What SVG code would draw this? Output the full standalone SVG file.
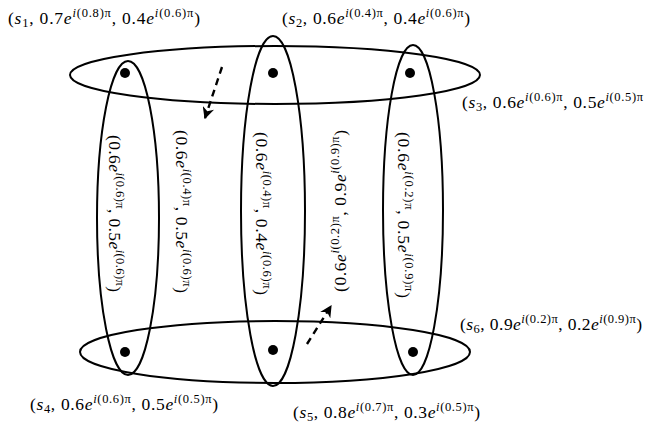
<svg xmlns="http://www.w3.org/2000/svg" width="646" height="423" viewBox="0 0 646 423">
<style>
.bg{fill:#fff}
.ell{fill:none;stroke:#000;stroke-width:2}
.dot{fill:#000}
.lbl{font-family:"Liberation Serif","DejaVu Serif",serif;font-size:17.5px;fill:#000}
.it{font-style:italic}
.sup{font-size:12.5px}
.sub{font-size:12.5px}
.dash{fill:none;stroke:#000;stroke-width:2.4;stroke-dasharray:7,5}
</style>
<defs>
<marker id="ah" viewBox="0 0 10 10" refX="9" refY="5" markerWidth="5" markerHeight="5" orient="auto" markerUnits="strokeWidth">
<path d="M0,0 L10,5 L0,10 L3,5 Z" fill="#000"/>
</marker>
</defs>
<rect class="bg" x="0" y="0" width="646" height="423"/>
<g id="hyperedges">
<ellipse id="e-top" class="ell" cx="275" cy="75" rx="205" ry="29"/>
<ellipse id="e-bottom" class="ell" cx="275" cy="352" rx="195" ry="31"/>
<ellipse id="e-left" class="ell" cx="128" cy="218" rx="31" ry="157"/>
<ellipse id="e-mid" class="ell" cx="273" cy="211" rx="32" ry="175"/>
<ellipse id="e-right" class="ell" cx="413" cy="210" rx="30" ry="165"/>
</g>
<g id="connectors">
<line class="dash" x1="222" y1="67" x2="205" y2="118" marker-end="url(#ah)"/>
<line class="dash" x1="307" y1="344" x2="331" y2="306" marker-end="url(#ah)"/>
</g>
<g id="s1"><circle class="dot" cx="125" cy="73" r="5"/>
<text class="lbl" x="8" y="24" textLength="192" lengthAdjust="spacing">(<tspan class="it">s</tspan><tspan class="sub" dy="3">1</tspan><tspan dy="-3">, 0.7</tspan><tspan class="it">e</tspan><tspan class="sup" dy="-7"><tspan class="it">i</tspan>(0.8)π</tspan><tspan dy="7">, 0.4</tspan><tspan class="it">e</tspan><tspan class="sup" dy="-7"><tspan class="it">i</tspan>(0.6)π</tspan><tspan dy="7">)</tspan></text></g>
<g id="s2"><circle class="dot" cx="273" cy="73" r="5"/>
<text class="lbl" x="282" y="24" textLength="188" lengthAdjust="spacing">(<tspan class="it">s</tspan><tspan class="sub" dy="3">2</tspan><tspan dy="-3">, 0.6</tspan><tspan class="it">e</tspan><tspan class="sup" dy="-7"><tspan class="it">i</tspan>(0.4)π</tspan><tspan dy="7">, 0.4</tspan><tspan class="it">e</tspan><tspan class="sup" dy="-7"><tspan class="it">i</tspan>(0.6)π</tspan><tspan dy="7">)</tspan></text></g>
<g id="s3"><circle class="dot" cx="410" cy="73" r="5"/>
<text class="lbl" x="462" y="108" textLength="181" lengthAdjust="spacing">(<tspan class="it">s</tspan><tspan class="sub" dy="3">3</tspan><tspan dy="-3">, 0.6</tspan><tspan class="it">e</tspan><tspan class="sup" dy="-7"><tspan class="it">i</tspan>(0.6)π</tspan><tspan dy="7">, 0.5</tspan><tspan class="it">e</tspan><tspan class="sup" dy="-7"><tspan class="it">i</tspan>(0.5)π</tspan></text></g>
<g id="s4"><circle class="dot" cx="125" cy="352" r="5"/>
<text class="lbl" x="30" y="410" textLength="188" lengthAdjust="spacing">(<tspan class="it">s</tspan><tspan class="sub" dy="3">4</tspan><tspan dy="-3">, 0.6</tspan><tspan class="it">e</tspan><tspan class="sup" dy="-7"><tspan class="it">i</tspan>(0.6)π</tspan><tspan dy="7">, 0.5</tspan><tspan class="it">e</tspan><tspan class="sup" dy="-7"><tspan class="it">i</tspan>(0.5)π</tspan><tspan dy="7">)</tspan></text></g>
<g id="s5"><circle class="dot" cx="273" cy="350" r="5"/>
<text class="lbl" x="293" y="418" textLength="187" lengthAdjust="spacing">(<tspan class="it">s</tspan><tspan class="sub" dy="3">5</tspan><tspan dy="-3">, 0.8</tspan><tspan class="it">e</tspan><tspan class="sup" dy="-7"><tspan class="it">i</tspan>(0.7)π</tspan><tspan dy="7">, 0.3</tspan><tspan class="it">e</tspan><tspan class="sup" dy="-7"><tspan class="it">i</tspan>(0.5)π</tspan><tspan dy="7">)</tspan></text></g>
<g id="s6"><circle class="dot" cx="413" cy="352" r="5"/>
<text class="lbl" x="460" y="330" textLength="182" lengthAdjust="spacing">(<tspan class="it">s</tspan><tspan class="sub" dy="3">6</tspan><tspan dy="-3">, 0.9</tspan><tspan class="it">e</tspan><tspan class="sup" dy="-7"><tspan class="it">i</tspan>(0.2)π</tspan><tspan dy="7">, 0.2</tspan><tspan class="it">e</tspan><tspan class="sup" dy="-7"><tspan class="it">i</tspan>(0.9)π</tspan><tspan dy="7">)</tspan></text></g>
<g id="edge-labels">
<text class="lbl" transform="translate(109,135) rotate(90)" textLength="157" lengthAdjust="spacing">(0.6<tspan class="it">e</tspan><tspan class="sup" dy="-7"><tspan class="it">i</tspan>(0.6)π</tspan><tspan dy="7">, 0.5</tspan><tspan class="it">e</tspan><tspan class="sup" dy="-7"><tspan class="it">i</tspan>(0.6)π</tspan><tspan dy="7">)</tspan></text>
<text class="lbl" transform="translate(176,130) rotate(90)" textLength="163" lengthAdjust="spacing">(0.6<tspan class="it">e</tspan><tspan class="sup" dy="-7"><tspan class="it">i</tspan>(0.4)π</tspan><tspan dy="7">, 0.5</tspan><tspan class="it">e</tspan><tspan class="sup" dy="-7"><tspan class="it">i</tspan>(0.6)π</tspan><tspan dy="7">)</tspan></text>
<text class="lbl" transform="translate(256,132) rotate(90)" textLength="163" lengthAdjust="spacing">(0.6<tspan class="it">e</tspan><tspan class="sup" dy="-7"><tspan class="it">i</tspan>(0.4)π</tspan><tspan dy="7">, 0.4</tspan><tspan class="it">e</tspan><tspan class="sup" dy="-7"><tspan class="it">i</tspan>(0.6)π</tspan><tspan dy="7">)</tspan></text>
<text class="lbl" transform="translate(346,292) rotate(-90)" textLength="162" lengthAdjust="spacing">(0.6<tspan class="it">e</tspan><tspan class="sup" dy="-7"><tspan class="it">i</tspan>(0.2)π</tspan><tspan dy="7">, 0.9</tspan><tspan class="it">e</tspan><tspan class="sup" dy="-7"><tspan class="it">i</tspan>(0.9)π</tspan><tspan dy="7">)</tspan></text>
<text class="lbl" transform="translate(398,132) rotate(90)" textLength="166" lengthAdjust="spacing">(0.6<tspan class="it">e</tspan><tspan class="sup" dy="-7"><tspan class="it">i</tspan>(0.2)π</tspan><tspan dy="7">, 0.5</tspan><tspan class="it">e</tspan><tspan class="sup" dy="-7"><tspan class="it">i</tspan>(0.9)π</tspan><tspan dy="7">)</tspan></text>
</g>
</svg>
